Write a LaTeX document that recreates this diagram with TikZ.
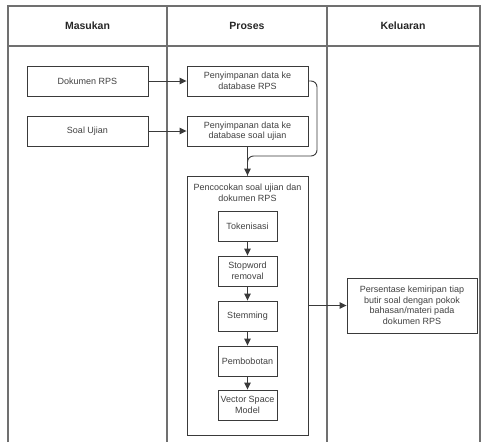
\documentclass[tikz,border=0pt]{standalone}
\usepackage{fontspec}
\setmainfont{Liberation Sans}
\usetikzlibrary{arrows.meta}
\definecolor{linegray}{HTML}{3A3A3A}
\definecolor{tablegray}{HTML}{707070}
\definecolor{textgray}{HTML}{404040}
\begin{document}
\begin{tikzpicture}[x=1pt,y=-1pt,
	box/.style={draw=linegray,line width=0.9pt,minimum width=121pt,minimum height=30pt,
		inner sep=1pt,align=center,text=textgray,font=\fontsize{9}{10.5}\selectfont},
	small/.style={box,minimum width=59pt},
	head/.style={font=\fontsize{10.5}{12}\selectfont\bfseries,text=black!85},
	arr/.style={draw=linegray,line width=0.9pt,-{Triangle[length=7pt,width=6.5pt]}},
	line/.style={draw=linegray,line width=0.9pt}]
\useasboundingbox (0,0) rectangle (481,442);

% table
\draw[tablegray,line width=1.1pt] (8,442) -- (8,6) -- (480,6) -- (480,442)
			(8,46) -- (480,46)
			(167,6) -- (167,442)
			(327,6) -- (327,442);
\node[head] (masukan) at (87.5,26) {Masukan};
\node[head] (proses) at (247,26) {Proses};
\node[head] (keluaran) at (403,26) {Keluaran};

% input
\node[box] (dok) at (87.5,81) {Dokumen RPS};
\node[box] (soal) at (87.5,131) {Soal Ujian};

% process
\node[box] (simpanRPS) at (247.5,81) {Penyimpanan data ke\\database RPS};
\node[box] (simpanSoal) at (247.5,131) {Penyimpanan data ke\\database soal ujian};
\node[box,minimum height=259pt] (cocok) at (247.5,305.5) {};
\node[align=center,text=textgray,font=\fontsize{9}{10.5}\selectfont] (cocokLabel) at (247.5,193) {Pencocokan soal ujian dan\\dokumen RPS};
\node[small] (tok) at (247.5,226) {Tokenisasi};
\node[small] (stop) at (247.5,271) {Stopword\\removal};
\node[small] (stem) at (247.5,316) {Stemming};
\node[small] (bobot) at (247.5,361) {Pembobotan};
\node[small] (vsm) at (247.5,405) {Vector Space\\Model};

% output
\node[box,minimum width=130pt,minimum height=55pt] (hasil) at (412,305.5) {Persentase kemiripan tiap\\butir soal dengan pokok\\bahasan/materi pada\\dokumen RPS};

\coordinate (bend) at (317,156);
\draw[arr] (dok) -- (simpanRPS);
\draw[arr] (soal) -- (simpanSoal);
\draw[line,rounded corners=6pt] (simpanRPS.east) -| (bend) -| (cocok.north);
\draw[arr] (simpanSoal) -- (cocok);
\draw[arr] (tok) -- (stop);
\draw[arr] (stop) -- (stem);
\draw[arr] (stem) -- (bobot);
\draw[arr] (bobot) -- (vsm);
\draw[arr] (cocok.east |- hasil) -- (hasil);

\end{tikzpicture}
\end{document}
